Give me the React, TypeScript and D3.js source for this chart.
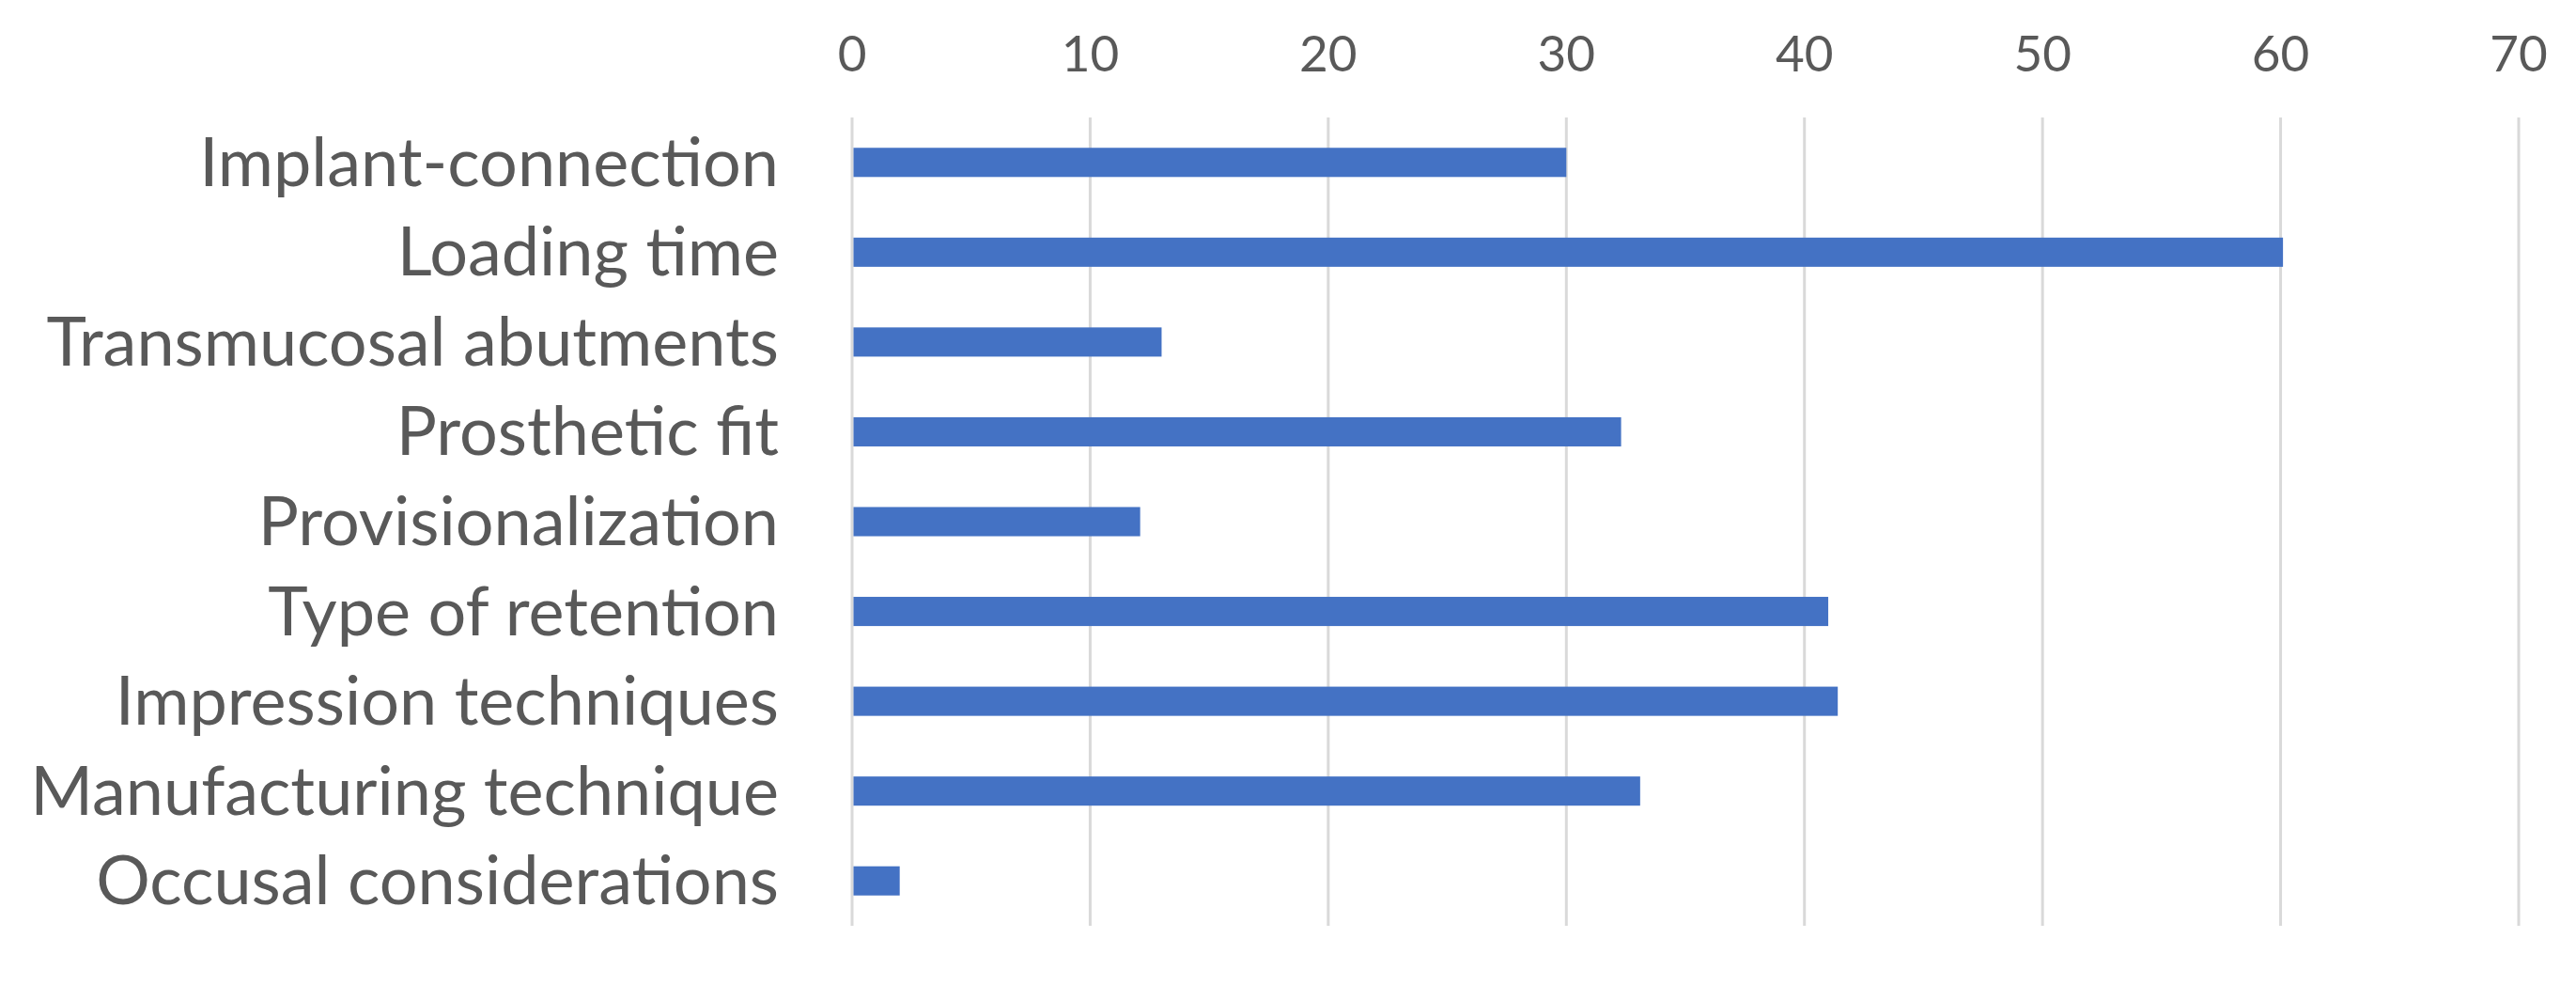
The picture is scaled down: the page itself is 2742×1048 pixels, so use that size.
import React from "react";
import * as d3 from "d3";

const categories = [
  "Implant-connection",
  "Loading time",
  "Transmucosal abutments",
  "Prosthetic fit",
  "Provisionalization",
  "Type of retention",
  "Impression techniques",
  "Manufacturing technique",
  "Occusal considerations",
];

const values = [30, 60.1, 13, 32.3, 12.1, 41, 41.4, 33.1, 2];

const xTicks = [0, 10, 20, 30, 40, 50, 60, 70];

const width = 2742;
const height = 1048;
const margin = { top: 125, right: 61, bottom: 63, left: 907 };

const App = () => {
  const innerW = width - margin.left - margin.right;

  const x = d3.scaleLinear().domain([0, 70]).range([margin.left, margin.left + innerW]);

  const y = d3
    .scaleBand()
    .domain(categories)
    .range([margin.top, height - margin.bottom])
    .paddingInner(0.675)
    .paddingOuter(0.3375);

  const font = "Lato, 'Open Sans', sans-serif";

  return (
    <div style={{ position: "absolute", left: 0, top: 0 }}>
      <svg width={width} height={height} style={{ display: "block", background: "#fff" }}>
        {/* gridlines */}
        {xTicks.map((t) => (
          <line
            key={"g" + t}
            x1={x(t)}
            x2={x(t)}
            y1={margin.top}
            y2={height - margin.bottom}
            stroke="#d9d9d9"
            strokeWidth={3}
          />
        ))}

        {/* tick labels */}
        {xTicks.map((t) => (
          <text
            key={"t" + t}
            x={x(t)}
            y={76}
            textAnchor="middle"
            fontFamily={font}
            fontSize={53}
            fill="#595959"
          >
            {t}
          </text>
        ))}

        {/* bars */}
        {categories.map((c, i) => (
          <rect
            key={"b" + c}
            x={x(0) + 1.5}
            y={y(c)}
            width={Math.max(0, x(values[i]) - x(0) - 1.5)}
            height={y.bandwidth()}
            fill="#4472c4"
          />
        ))}

        {/* category labels */}
        {categories.map((c) => (
          <text
            key={"l" + c}
            x={829}
            y={(y(c) ?? 0) + y.bandwidth() / 2 + 25}
            textAnchor="end"
            fontFamily={font}
            fontSize={72}
            fill="#595959"
          >
            {c}
          </text>
        ))}
      </svg>
    </div>
  );
};

export default App;
